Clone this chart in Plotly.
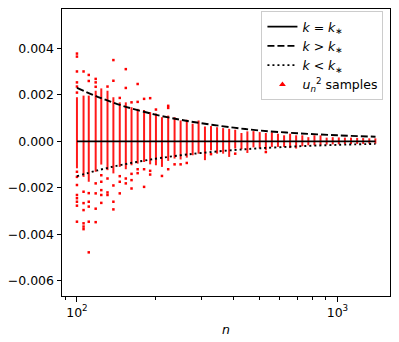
import plotly.graph_objects as go

# sample sizes (one column of samples per n)
n_values = [100, 106, 111, 118, 124, 131, 138, 146, 154, 162,
            171, 181, 191, 201, 212, 224, 237, 250, 264, 278,
            293, 310, 327, 345, 364, 384, 405, 428, 451, 476,
            503, 531, 560, 591, 624, 658, 694, 733, 773, 816,
            861, 909, 959, 1012, 1068, 1127, 1190, 1255, 1325, 1398]

# dense part of each sample column (upper / lower end)
core_hi = [0.00190, 0.00197, 0.00197, 0.00218, 0.00228, 0.00218, 0.00190, 0.00168, 0.00168, 0.00147,
           0.00140, 0.00135, 0.00126, 0.00120, 0.00104, 0.00111, 0.00104, 0.00090, 0.00093, 0.00076,
           0.00090, 0.00064, 0.00066, 0.00061, 0.00057, 0.00054, 0.00050, 0.00036, 0.00043, 0.00044,
           0.00040, 0.00036, 0.00039, 0.00033, 0.00026, 0.00033, 0.00026, 0.00026, 0.00018, 0.00026,
           0.00026, 0.00016, 0.00018, 0.00017, 0.00016, 0.00016, 0.00015, 0.00014, 0.00013, 0.00013]
core_lo = [-0.00116, -0.00153, -0.00174, -0.00131, -0.00100, -0.00124, -0.00138, -0.00110, -0.00120, -0.00103,
           -0.00096, -0.00089, -0.00099, -0.00103, -0.00110, -0.00084, -0.00074, -0.00078, -0.00070, -0.00060,
           -0.00053, -0.00081, -0.00039, -0.00053, -0.00053, -0.00067, -0.00031, -0.00034, -0.00050, -0.00026,
           -0.00031, -0.00038, -0.00024, -0.00024, -0.00024, -0.00029, -0.00031, -0.00021, -0.00017, -0.00017,
           -0.00017, -0.00014, -0.00013, -0.00013, -0.00012, -0.00012, -0.00011, -0.00011, -0.00010, -0.00010]

# isolated samples outside the dense part (column index, value)
outlier_col = [0, 0, 0, 0, 0, 0, 0, 0, 0, 0, 0, 0, 0, 0,
               1, 1, 1, 1, 1, 1, 1,
               2, 2, 2, 2, 2, 2, 2,
               3, 3, 3, 3, 3, 3, 3,
               4, 4, 4, 4, 4,
               5, 5, 5, 5,
               6, 6, 6, 6, 6,
               7, 7, 7, 7,
               8, 8, 8, 8,
               9, 9, 9, 9,
               10, 10, 10, 10,
               11, 11, 11,
               12, 12, 12,
               13, 14, 15, 15, 15, 16, 17, 18, 22, 26, 31]
outlier_u = [0.00378, 0.00365, 0.00301, 0.00254, 0.00236, 0.00210, -0.00131, -0.00153, -0.00188, -0.00231, -0.00245, -0.00260, -0.00277, -0.00346,
             0.00301, -0.00217, -0.00266, -0.00296, -0.00353, -0.00367, -0.00378,
             0.00286, 0.00260, -0.00223, -0.00260, -0.00281, -0.00346, -0.00478,
             0.00269, 0.00254, 0.00235, -0.00181, -0.00224, -0.00290, -0.00348,
             -0.00146, -0.00174, -0.00210, -0.00231, -0.00265,
             0.00236, -0.00160, -0.00220, -0.00231,
             0.00350, 0.00261, -0.00190, -0.00260, -0.00293,
             0.00187, -0.00150, -0.00174, -0.00224,
             0.00311, 0.00230, -0.00160, -0.00181,
             0.00168, -0.00140, -0.00167, -0.00203,
             0.00247, 0.00170, -0.00120, -0.00137,
             0.00183, -0.00120, -0.00196,
             0.00186, -0.00127, -0.00143,
             0.00137, -0.00149, 0.00153, 0.00144, -0.00120, -0.00099, -0.00099, -0.00093, -0.00055, -0.00053, -0.00046]

# theory curves
curve_n = [100, 120, 150, 200, 250, 300, 400, 500, 700, 1000, 1400]
curve_eq = [0, 0, 0, 0, 0, 0, 0, 0, 0, 0, 0]
curve_gt = [0.00230, 0.00192, 0.00153, 0.00115, 0.00093, 0.00078, 0.00059, 0.00047, 0.00035, 0.00026, 0.00020]
curve_lt = [-0.00150, -0.00125, -0.00100, -0.00075, -0.00060, -0.00050, -0.000375, -0.00030, -0.000215, -0.00015, -0.00011]

y_ticks = [-0.006, -0.004, -0.002, 0.0, 0.002, 0.004]

FONT = "DejaVu Sans"

fig = go.Figure()

# dense sample columns as short vertical strokes
seg_x, seg_y = [], []
for n, lo, hi in zip(n_values, core_lo, core_hi):
    seg_x += [n, n, None]
    seg_y += [lo, hi, None]
fig.add_trace(go.Scatter(x=seg_x, y=seg_y, mode="lines",
                         line=dict(color="rgba(255,0,0,0.9)", width=2),
                         showlegend=False, hoverinfo="skip"))

fig.add_trace(go.Scatter(x=[n_values[i] for i in outlier_col], y=outlier_u,
                         mode="markers", showlegend=False,
                         marker=dict(symbol="square", size=2.5, color="red")))

fig.add_trace(go.Scatter(x=curve_n, y=curve_eq, mode="lines", name="<i>k</i> = <i>k</i><sub>∗</sub>",
                         line=dict(color="black", width=1.9)))
fig.add_trace(go.Scatter(x=curve_n, y=curve_gt, mode="lines", name="<i>k</i> &gt; <i>k</i><sub>∗</sub>",
                         line=dict(color="black", width=1.9, dash="7px,3px", shape="spline")))
fig.add_trace(go.Scatter(x=curve_n, y=curve_lt, mode="lines", name="<i>k</i> &lt; <i>k</i><sub>∗</sub>",
                         line=dict(color="black", width=1.9, dash="2px,3px", shape="spline")))
# legend entry for the samples
fig.add_trace(go.Scatter(x=[None], y=[None], mode="markers",
                         name="<i>u</i><sub><i>n</i></sub><sup>2</sup> samples",
                         marker=dict(symbol="triangle-up", size=6, color="red")))

axis_common = dict(showline=True, linecolor="black", linewidth=1, mirror=True,
                   ticks="outside", ticklen=4.5, tickcolor="black", showgrid=False,
                   zeroline=False, tickfont=dict(family=FONT, size=12.5, color="black"))

fig.update_xaxes(type="log", range=[1.9426, 3.2017],
                 tickvals=[100, 1000], ticktext=["10<sup>2</sup>", "10<sup>3</sup>"],
                 minor=dict(tickvals=[90, 200, 300, 400, 500, 600, 700, 800, 900],
                            ticks="outside", ticklen=2.5, tickcolor="black"),
                 title=dict(text="<i>n</i>", font=dict(family=FONT, size=12.5, color="black"), standoff=6),
                 **axis_common)
fig.update_yaxes(range=[-0.00666, 0.0057], tickvals=y_ticks,
                 ticktext=[f"{v:.3f}".replace("-", "−") for v in y_ticks],
                 **axis_common)

fig.update_layout(
    width=399, height=342,
    margin=dict(l=61, r=9, t=8, b=45),
    plot_bgcolor="white", paper_bgcolor="white",
    font=dict(family=FONT, size=12.5, color="black"),
    legend=dict(x=0.98, y=0.993, xanchor="right", yanchor="top",
                bgcolor="rgba(255,255,255,0.8)", bordercolor="#cccccc", borderwidth=1,
                itemwidth=30, font=dict(family=FONT, size=12.5)),
)

# the page's default body margin would shift the figure by 8 px
fig.write_html("out.html", config={"displayModeBar": False},
               post_script="document.body.style.margin='0';")
